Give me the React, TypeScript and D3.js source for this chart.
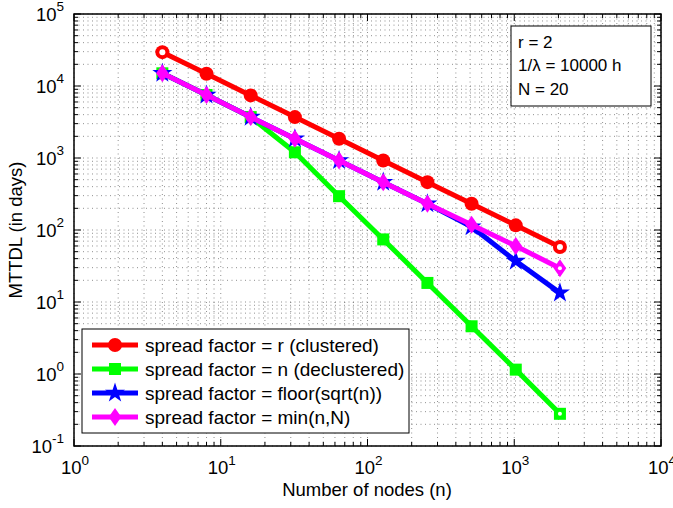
import React, { useEffect, useRef } from 'react';
import * as d3 from 'd3';

// number of nodes
const nodes = [4, 8, 16, 32, 64, 128, 256, 512, 1024, 2048];

// MTTDL in days
const clustered = [29500, 14800, 7400, 3700, 1850, 925, 462, 231, 116, 58];
const declustered = [15000, 7500, 3700, 1200, 295, 74, 18.4, 4.6, 1.15, 0.28];
const floorSqrt = [15000, 7500, 3700, 1850, 925, 462, 231, 111, 37, 13.4];
const minNN = [15000, 7500, 3700, 1850, 925, 462, 231, 118, 60, 29.4];

const seriesNames = [
  'spread factor = r (clustered)',
  'spread factor = n (declustered)',
  'spread factor = floor(sqrt(n))',
  'spread factor = min(n,N)',
];
const seriesColors = ['#ff0000', '#00ff00', '#0000ff', '#ff00ff'];
const seriesMarkers = ['circle', 'square', 'star', 'diamond'];

const xDecades = [0, 1, 2, 3, 4];
const yDecades = [-1, 0, 1, 2, 3, 4, 5];

const notes = ['r = 2', '1/\u03bb = 10000 h', 'N = 20'];

const font = 'Liberation Sans, Arial, Helvetica, sans-serif';

const App = () => {
  const anchor = useRef<SVGGElement>(null);

  useEffect(() => {
    const g = d3.select(anchor.current);
    g.selectAll('*').remove();

    const margin = { top: 14, right: 12, bottom: 62, left: 74 };
    const width = 673 - margin.left - margin.right;
    const height = 508 - margin.top - margin.bottom;

    const graph = g.append('g').attr('transform', `translate(${margin.left}, ${margin.top})`);

    const x = d3.scaleLog().domain([1, 1e4]).range([0, width]);
    const y = d3.scaleLog().domain([0.1, 1e5]).range([height, 0]);

    // major + minor tick values
    const xMinor: number[] = [];
    for (let d = 0; d < 4; d++) for (let k = 2; k <= 9; k++) xMinor.push(k * Math.pow(10, d));
    const yMinor: number[] = [];
    for (let d = -1; d < 5; d++) for (let k = 2; k <= 9; k++) yMinor.push(k * Math.pow(10, d));
    const xMajor = xDecades.map(d => Math.pow(10, d));
    const yMajor = yDecades.map(d => Math.pow(10, d));

    // dotted grid
    const grid = graph.append('g').attr('stroke', '#444').attr('stroke-width', 0.6).attr('stroke-dasharray', '1,3.5');
    grid.selectAll('.gx').data(xMajor.concat(xMinor)).enter().append('line')
      .attr('x1', d => x(d)).attr('x2', d => x(d)).attr('y1', 0).attr('y2', height);
    grid.selectAll('.gy').data(yMajor.concat(yMinor)).enter().append('line')
      .attr('y1', d => y(d)).attr('y2', d => y(d)).attr('x1', 0).attr('x2', width);

    // lines + markers
    const allSeries = [clustered, declustered, floorSqrt, minNN];
    const line = d3.line<number>().x((d, i) => x(nodes[i])).y(d => y(d));

    const drawMarker = (sel: any, type: string, color: string) => {
      if (type === 'circle') {
        sel.append('circle').attr('r', 7).attr('fill', color);
      } else if (type === 'square') {
        const s = 12;
        sel.append('rect').attr('x', -s / 2).attr('y', -s / 2).attr('width', s).attr('height', s).attr('fill', color);
      } else if (type === 'star') {
        sel.append('path').attr('d', d3.symbol().type(d3.symbolStar).size(125)()).attr('fill', color);
      } else {
        const r = 9;
        sel.append('path').attr('d', `M0,${-r}L${r * 0.7},0L0,${r}L${-r * 0.7},0Z`).attr('fill', color);
      }
    };

    allSeries.forEach((vals, si) => {
      const color = seriesColors[si];
      graph.append('path').datum(vals).attr('d', line).attr('fill', 'none')
        .attr('stroke', color).attr('stroke-width', 5).attr('stroke-linejoin', 'round');
      vals.forEach((v, i) => {
        const m = graph.append('g').attr('transform', `translate(${x(nodes[i])}, ${y(v)})`);
        drawMarker(m, seriesMarkers[si], color);
        // endpoint markers render with a small hollow centre in the original
        const last = i === vals.length - 1;
        if ((si === 0 && (i === 0 || last)) || ((si === 1 || si === 3) && last)) {
          m.append('circle').attr('r', si === 0 ? 3 : 2).attr('fill', '#fff');
        }
      });
    });

    // axes box
    graph.append('rect').attr('width', width).attr('height', height)
      .attr('fill', 'none').attr('stroke', '#000').attr('stroke-width', 1.5);

    const ticks = graph.append('g').attr('stroke', '#000').attr('stroke-width', 1);
    const tx = (vals: number[], len: number) => {
      vals.forEach(v => {
        ticks.append('line').attr('x1', x(v)).attr('x2', x(v)).attr('y1', height).attr('y2', height - len);
        ticks.append('line').attr('x1', x(v)).attr('x2', x(v)).attr('y1', 0).attr('y2', len);
      });
    };
    const ty = (vals: number[], len: number) => {
      vals.forEach(v => {
        ticks.append('line').attr('y1', y(v)).attr('y2', y(v)).attr('x1', 0).attr('x2', len);
        ticks.append('line').attr('y1', y(v)).attr('y2', y(v)).attr('x1', width).attr('x2', width - len);
      });
    };
    tx(xMajor, 7); tx(xMinor, 4);
    ty(yMajor, 7); ty(yMinor, 4);

    // tick labels
    xDecades.forEach(d => {
      const t = graph.append('text').attr('x', x(Math.pow(10, d)) + 1).attr('y', height + 28)
        .attr('text-anchor', 'middle').attr('font-family', font).attr('font-size', 18.5);
      t.append('tspan').text('10');
      t.append('tspan').attr('dy', -9.5).attr('font-size', 13.5).text(String(d));
    });
    yDecades.forEach(d => {
      const t = graph.append('text').attr('x', -10).attr('y', y(Math.pow(10, d)) + 6.5)
        .attr('text-anchor', 'end').attr('font-family', font).attr('font-size', 18.5);
      t.append('tspan').text('10');
      t.append('tspan').attr('dy', -9.5).attr('font-size', 13.5).text(String(d));
    });

    // axis titles
    graph.append('text').attr('x', width / 2 - 0.5).attr('y', height + 50).attr('text-anchor', 'middle')
      .attr('font-family', font).attr('font-size', 18.5).text('Number of nodes (n)');
    graph.append('text').attr('transform', `translate(${-52}, ${height / 2}) rotate(-90)`)
      .attr('text-anchor', 'middle').attr('font-family', font).attr('font-size', 18.5).text('MTTDL (in days)');

    // legend
    const legend = graph.append('g').attr('transform', 'translate(8, 315)');
    legend.append('rect').attr('width', 327).attr('height', 104).attr('fill', '#fff')
      .attr('stroke', '#000').attr('stroke-width', 1);
    seriesNames.forEach((name, i) => {
      const row = legend.append('g').attr('transform', `translate(0, ${16 + i * 24})`);
      row.append('line').attr('x1', 10).attr('x2', 56).attr('stroke', seriesColors[i]).attr('stroke-width', 5);
      const m = row.append('g').attr('transform', 'translate(33, 0)');
      drawMarker(m, seriesMarkers[i], seriesColors[i]);
      row.append('text').attr('x', 63).attr('y', 6.5).attr('font-family', font).attr('font-size', 19).text(name);
    });

    // annotation box
    const note = graph.append('g').attr('transform', `translate(${511 - margin.left}, ${26 - margin.top})`);
    note.append('rect').attr('width', 140).attr('height', 80).attr('fill', '#fff')
      .attr('stroke', '#000').attr('stroke-width', 1);
    notes.forEach((n, i) => {
      note.append('text').attr('x', 7).attr('y', 22 + i * 23.3).attr('font-family', font)
        .attr('font-size', 17).text(n);
    });
  }, []);

  return (
    <svg width={673} height={508} style={{ position: 'absolute', left: 0, top: 0, background: '#fff' }}>
      <g ref={anchor} />
    </svg>
  );
};

export default App;
